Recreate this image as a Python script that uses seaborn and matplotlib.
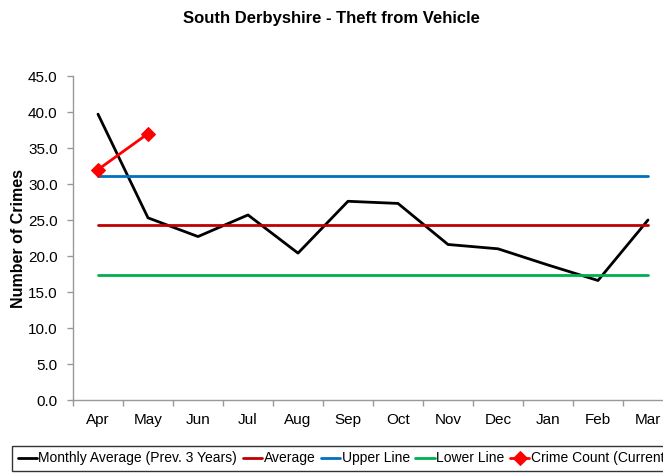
import numpy as np
import pandas as pd
import matplotlib
matplotlib.use("Agg")
import matplotlib.pyplot as plt
import seaborn as sns

months = ["Apr", "May", "Jun", "Jul", "Aug", "Sep", "Oct", "Nov", "Dec", "Jan", "Feb", "Mar"]
monthly_avg = [39.7, 25.3, 22.7, 25.7, 20.4, 27.6, 27.3, 21.6, 21.0, 18.75, 16.6, 25.0]
average = 24.3
upper_line = 31.1
lower_line = 17.4
crime_count = [32.0, 37.0]
y_ticks = [0, 5, 10, 15, 20, 25, 30, 35, 40, 45]

sns.set_theme(style="white")
plt.rcParams["font.family"] = ["Liberation Sans", "DejaVu Sans"]
plt.rcParams["text.color"] = "black"
plt.rcParams["axes.labelcolor"] = "black"
plt.rcParams["xtick.color"] = "black"
plt.rcParams["ytick.color"] = "black"

W, H = 663, 473
fig = plt.figure(figsize=(W / 100, H / 100), dpi=100)
# Plot area runs past the right edge of the canvas
ax = fig.add_axes([73 / W, (H - 400) / H, 600 / W, 324 / H])

x = np.arange(len(months))
df = pd.DataFrame({
    "x": x,
    "month": months,
    "monthly": monthly_avg,
    "avg": [average] * len(months),
    "upper": [upper_line] * len(months),
    "lower": [lower_line] * len(months),
})
cur = pd.DataFrame({"x": x[:len(crime_count)], "count": crime_count})

lw = 2.0
sns.lineplot(data=df, x="x", y="monthly", ax=ax, color="black", lw=lw,
             label="Monthly Average (Prev. 3 Years)")
sns.lineplot(data=df, x="x", y="avg", ax=ax, color="#C00000", lw=lw, label="Average")
sns.lineplot(data=df, x="x", y="upper", ax=ax, color="#0070C0", lw=lw, label="Upper Line")
sns.lineplot(data=df, x="x", y="lower", ax=ax, color="#00B050", lw=lw, label="Lower Line")
sns.lineplot(data=cur, x="x", y="count", ax=ax, color="#FF0000", lw=lw, marker="D",
             markersize=7, markeredgecolor="#FF0000", label="Crime Count (Current Year)")

ax.set_xlim(-0.5, len(months) - 0.5)
ax.set_ylim(0, 45)
ax.set_yticks(y_ticks)
ax.set_yticklabels([f"{v:.1f}" for v in y_ticks], fontsize=11)
ax.set_xticks(x)
ax.set_xticklabels(months, fontsize=11)
ax.set_xticks(np.arange(-0.5, len(months), 1.0), minor=True)
ax.tick_params(axis="x", which="major", length=0, pad=9)
ax.tick_params(axis="x", which="minor", length=4, width=1, color="#999999", bottom=True, direction="out")
ax.tick_params(axis="y", which="major", length=4, width=1, color="#999999", left=True, direction="out", pad=7)
ax.set_xlabel("")
ax.set_ylabel("Number of Crimes", fontsize=11.5, fontweight="bold", labelpad=1.5)

for side in ("top", "right"):
    ax.spines[side].set_visible(False)
for side in ("left", "bottom"):
    ax.spines[side].set_color("#999999")
    ax.spines[side].set_linewidth(1)

fig.suptitle("South Derbyshire - Theft from Vehicle", x=0.5, y=1 - 18 / H,
             va="center", fontsize=12, fontweight="bold")

handles, labels = ax.get_legend_handles_labels()
ax.get_legend().remove()
leg = fig.legend(handles, labels, loc="lower left", bbox_to_anchor=(12 / W, 2 / H),
                 ncol=5, fontsize=10, frameon=True, fancybox=False, handlelength=1.4,
                 handletextpad=0.1, columnspacing=0.4, borderpad=0.4, borderaxespad=0)
leg.get_frame().set_edgecolor("black")
leg.get_frame().set_linewidth(1)

fig.savefig("out.png", dpi=100)
